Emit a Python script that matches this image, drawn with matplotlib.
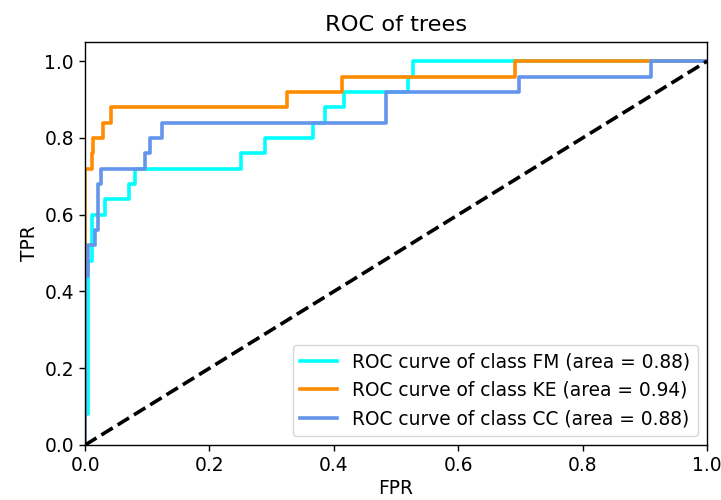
import matplotlib
matplotlib.use("Agg")
from matplotlib import pyplot as plt

# step points of each ROC curve
fpr_fm = [0, 0, 0.005, 0.005, 0.011, 0.011, 0.032, 0.032, 0.07, 0.07, 0.08, 0.08,
          0.251, 0.251, 0.29, 0.29, 0.367, 0.367, 0.386, 0.386, 0.417, 0.417,
          0.52, 0.52, 0.528, 0.528, 1.0]
tpr_fm = [0, 0.08, 0.08, 0.48, 0.48, 0.60, 0.60, 0.64, 0.64, 0.68, 0.68, 0.72,
          0.72, 0.76, 0.76, 0.80, 0.80, 0.84, 0.84, 0.88, 0.88, 0.92,
          0.92, 0.96, 0.96, 1.0, 1.0]

fpr_ke = [0, 0, 0.0107, 0.0107, 0.0134, 0.0134, 0.029, 0.029, 0.041, 0.041,
          0.324, 0.324, 0.413, 0.413, 0.692, 0.692, 1.0]
tpr_ke = [0, 0.72, 0.72, 0.76, 0.76, 0.80, 0.80, 0.84, 0.84, 0.88,
          0.88, 0.92, 0.92, 0.96, 0.96, 1.0, 1.0]

fpr_cc = [0, 0, 0.005, 0.005, 0.016, 0.016, 0.021, 0.021, 0.025, 0.025,
          0.0965, 0.0965, 0.1045, 0.1045, 0.123, 0.123, 0.484, 0.484,
          0.697, 0.697, 0.91, 0.91, 1.0]
tpr_cc = [0, 0.44, 0.44, 0.52, 0.52, 0.56, 0.56, 0.68, 0.68, 0.72,
          0.72, 0.76, 0.76, 0.80, 0.80, 0.84, 0.84, 0.92,
          0.92, 0.96, 0.96, 1.0, 1.0]

classes = ["FM", "KE", "CC"]
areas = [0.88, 0.94, 0.88]
colors = ["aqua", "darkorange", "cornflowerblue"]
curves = [(fpr_fm, tpr_fm), (fpr_ke, tpr_ke), (fpr_cc, tpr_cc)]

fs = 13.4
lw = 2.6
plt.rcParams["font.family"] = "DejaVu Sans"
plt.rcParams["axes.linewidth"] = 1.0

fig = plt.figure(figsize=(7.21, 5.0), dpi=100)
ax = fig.add_axes([0.118, 0.11, 0.8626, 0.806])

for (f, t), c, name, a in zip(curves, colors, classes, areas):
    ax.plot(f, t, color=c, lw=lw,
            label="ROC curve of class {0} (area = {1:0.2f})".format(name, a))
ax.plot([0, 1], [0, 1], "k--", lw=lw)

ax.set_xlim(0.0, 1.0)
ax.set_ylim(0.0, 1.05)
ax.set_xticks([0.0, 0.2, 0.4, 0.6, 0.8, 1.0])
ax.set_yticks([0.0, 0.2, 0.4, 0.6, 0.8, 1.0])
ax.tick_params(labelsize=fs, length=4.5, width=1.0)
ax.set_xlabel("FPR", fontsize=fs, labelpad=3)
ax.set_ylabel("TPR", fontsize=fs)
ax.set_title("ROC of trees", fontsize=16.2, pad=8)
ax.legend(loc="lower right", fontsize=fs)

fig.savefig("out.png", dpi=100)
